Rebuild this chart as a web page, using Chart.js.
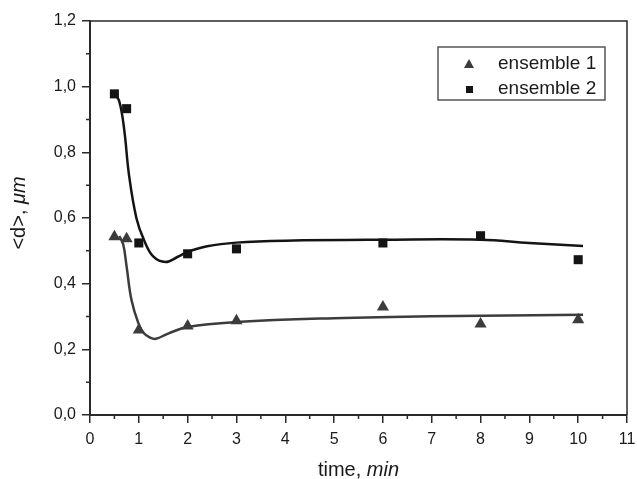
<!DOCTYPE html>
<html>
<head>
<meta charset="utf-8">
<script src="https://cdn.jsdelivr.net/npm/chart.js@4"></script>
<style>
  html, body { margin: 0; padding: 0; background: #fff; }
  #wrap { width: 637px; height: 479px; }
</style>
</head>
<body>
<div id="wrap"><canvas id="chart" width="637" height="479"></canvas></div>
<script>
// measured points
var timeMin = [0.5, 0.75, 1, 2, 3, 6, 8, 10];
var ens1 = [0.543, 0.537, 0.259, 0.271, 0.287, 0.329, 0.277, 0.290];
var ens2 = [0.978, 0.933, 0.524, 0.491, 0.506, 0.524, 0.546, 0.473];

// fitted curves
var fit1X = [0.6, 0.68, 0.75, 0.85, 0.99, 1.1, 1.23, 1.35, 1.6, 2.0, 3, 5, 7, 10.1];
var fit1Y = [0.545, 0.52, 0.452, 0.35, 0.28, 0.25, 0.236, 0.232, 0.248, 0.268, 0.283, 0.295, 0.301, 0.305];
var fit2X = [0.5, 0.6, 0.7, 0.8, 0.95, 1.1, 1.3, 1.55, 1.8, 2.0, 2.4, 3, 4, 6, 8, 9, 10.1];
var fit2Y = [0.978, 0.955, 0.87, 0.73, 0.6, 0.535, 0.482, 0.466, 0.482, 0.497, 0.514, 0.525, 0.531, 0.534, 0.534, 0.524, 0.515];

var xTicks = [0, 1, 2, 3, 4, 5, 6, 7, 8, 9, 10, 11];
var yTicks = [0.0, 0.2, 0.4, 0.6, 0.8, 1.0, 1.2];
var legendLabels = ["ensemble 1", "ensemble 2"];

function pts(xs, ys) {
    var out = [];
    for (var i = 0; i < xs.length; i++) out.push({x: xs[i], y: ys[i]});
    return out;
}

var col1 = "#3c3c3c";
var col2 = "#141414";
var axisCol = "#2a2a2a";

var decorPlugin = {
    id: "decor",
    afterDraw: function (chart) {
        var ctx = chart.ctx;
        var a = chart.chartArea;
        var xs = chart.scales.x, ys = chart.scales.y;
        ctx.save();
        // top and right frame
        ctx.strokeStyle = axisCol;
        ctx.lineWidth = 1.5;
        ctx.beginPath();
        ctx.moveTo(a.left, a.top);
        ctx.lineTo(a.right, a.top);
        ctx.lineTo(a.right, a.bottom);
        ctx.stroke();
        // minor ticks
        ctx.beginPath();
        for (var v = 0.5; v < 11; v += 1) {
            var px = xs.getPixelForValue(v);
            ctx.moveTo(px, a.bottom);
            ctx.lineTo(px, a.bottom + 4);
        }
        for (var w = 0.1; w < 1.2; w += 0.2) {
            var py = ys.getPixelForValue(w);
            ctx.moveTo(a.left, py);
            ctx.lineTo(a.left - 4, py);
        }
        ctx.stroke();

        // axis titles
        ctx.fillStyle = "#1a1a1a";
        ctx.textBaseline = "alphabetic";
        var nf = "20px 'Liberation Sans', Arial, sans-serif";
        var itf = "italic 20px 'Liberation Sans', Arial, sans-serif";
        ctx.font = nf;
        var w1 = ctx.measureText("time, ").width;
        ctx.font = itf;
        var w2 = ctx.measureText("min").width;
        var cx = (a.left + a.right) / 2;
        var sx = cx - (w1 + w2) / 2;
        ctx.font = nf;
        ctx.textAlign = "left";
        ctx.fillText("time, ", sx, 476);
        ctx.font = itf;
        ctx.fillText("min", sx + w1, 476);

        ctx.save();
        ctx.translate(25, 213);
        ctx.rotate(-Math.PI / 2);
        ctx.font = nf;
        var u1 = ctx.measureText("<d>, ").width;
        ctx.font = itf;
        var u2 = ctx.measureText("\u03bcm").width;
        var s = -(u1 + u2) / 2;
        ctx.font = nf;
        ctx.fillText("<d>, ", s, 0);
        ctx.font = itf;
        ctx.fillText("\u03bcm", s + u1, 0);
        ctx.restore();

        // legend box
        ctx.strokeStyle = "#555";
        ctx.lineWidth = 1.5;
        ctx.strokeRect(438, 47, 167, 53);
        ctx.fillStyle = col1;
        ctx.beginPath();
        ctx.moveTo(469, 59);
        ctx.lineTo(474, 68);
        ctx.lineTo(464, 68);
        ctx.closePath();
        ctx.fill();
        ctx.fillStyle = col2;
        ctx.fillRect(466, 86, 7, 7);
        ctx.fillStyle = "#1a1a1a";
        ctx.font = "19px 'Liberation Sans', Arial, sans-serif";
        ctx.fillText(legendLabels[0], 498, 69);
        ctx.fillText(legendLabels[1], 498, 94);
        ctx.restore();
    }
};

var ctx = document.getElementById("chart");
var chart = new Chart(ctx, {
    type: "scatter",
    data: {
        datasets: [{
            label: legendLabels[0] + " fit",
            type: "line",
            data: pts(fit1X, fit1Y),
            borderColor: col1,
            borderWidth: 2.5,
            pointRadius: 0,
            fill: false,
            tension: 0.4
        }, {
            label: legendLabels[1] + " fit",
            type: "line",
            data: pts(fit2X, fit2Y),
            borderColor: col2,
            borderWidth: 2.5,
            pointRadius: 0,
            fill: false,
            tension: 0.4
        }, {
            label: legendLabels[0],
            data: pts(timeMin, ens1),
            pointStyle: "triangle",
            pointRadius: 7,
            backgroundColor: col1,
            borderColor: col1,
            borderWidth: 0
        }, {
            label: legendLabels[1],
            data: pts(timeMin, ens2),
            pointStyle: "rect",
            pointRadius: 6.4,
            backgroundColor: col2,
            borderColor: col2,
            borderWidth: 0
        }]
    },
    options: {
        responsive: false,
        animation: false,
        layout: { padding: { left: 0, right: 10, top: 21, bottom: 0 } },
        plugins: {
            legend: { display: false },
            tooltip: { enabled: false }
        },
        scales: {
            x: {
                type: "linear",
                min: 0,
                max: 11,
                afterBuildTicks: function (s) {
                    s.ticks = xTicks.map(function (v) { return {value: v}; });
                },
                ticks: {
                    color: "#1a1a1a",
                    font: { family: "'Liberation Sans', Arial, sans-serif", size: 16 },
                    padding: 7,
                    maxRotation: 0,
                    autoSkip: false
                },
                grid: { drawOnChartArea: false, drawTicks: true, tickLength: 8, color: axisCol, lineWidth: 1.5 },
                border: { display: true, color: axisCol, width: 2 },
                afterFit: function (s) {
                    s.height = 64;
                    s.paddingLeft = 0;
                    s.paddingRight = 0;
                }
            },
            y: {
                type: "linear",
                min: 0,
                max: 1.2,
                afterBuildTicks: function (s) {
                    s.ticks = yTicks.map(function (v) { return {value: v}; });
                },
                ticks: {
                    color: "#1a1a1a",
                    font: { family: "'Liberation Sans', Arial, sans-serif", size: 16 },
                    padding: 6,
                    callback: function (v) { return v.toFixed(1).replace(".", ","); }
                },
                grid: { drawOnChartArea: false, drawTicks: true, tickLength: 8, color: axisCol, lineWidth: 1.5 },
                border: { display: true, color: axisCol, width: 2 },
                afterFit: function (s) {
                    s.width = 90;
                    s.paddingTop = 0;
                    s.paddingBottom = 0;
                }
            }
        }
    },
    plugins: [decorPlugin]
});
</script>
</body>
</html>
